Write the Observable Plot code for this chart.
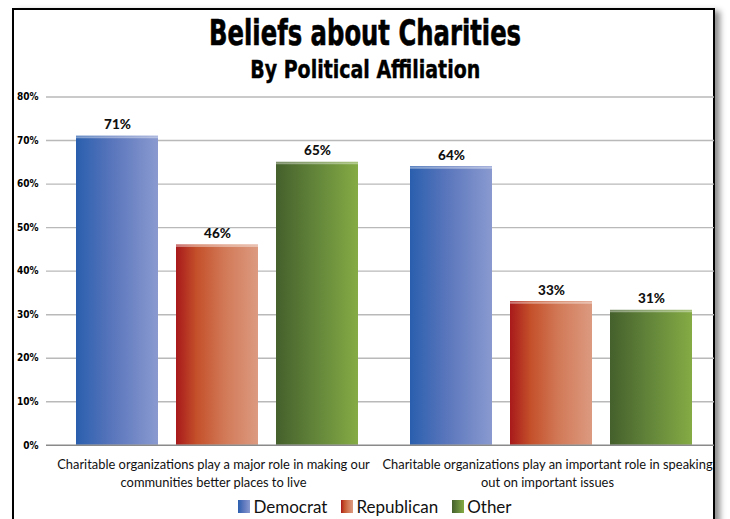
<!DOCTYPE html>
<html>
<head>
<meta charset="utf-8">
<script src="https://cdn.jsdelivr.net/npm/d3@7"></script>
<script src="https://cdn.jsdelivr.net/npm/@observablehq/plot@0.6"></script>
<style>
  body { margin: 0; background: #fff; }
  #wrap { position: relative; width: 730px; height: 519px; overflow: hidden; background: #fff; }
  #frame {
    position: absolute; left: 12px; top: 8px; width: 698.5px; height: 600px;
    border: 2.5px solid #000; box-shadow: 5px 3px 6px rgba(0,0,0,0.45); background: #fff;
  }
  .ttl { position: absolute; left: 0; width: 730px; text-align: center; color: #000;
         font-family: "DejaVu Sans Condensed", "DejaVu Sans", sans-serif; font-weight: bold; white-space: nowrap; }
  .ttl span { display: inline-block; transform-origin: center; }
  #title { top: 13px; font-size: 36px; line-height: 40px; -webkit-text-stroke: 0.6px #000; }
  #subtitle { top: 56px; font-size: 25px; line-height: 28px; -webkit-text-stroke: 0.4px #000; }
  #chart { position: absolute; left: 0; top: 86px; }
  #legend { position: absolute; left: 20px; top: 496px; width: 710px; text-align: center;
            font-family: Lato, "Open Sans", sans-serif; font-size: 17px; color: #111; white-space: nowrap; }
  .item { display: inline-flex; align-items: center; margin: 0 7px; }
  .sw { display: inline-block; width: 12px; height: 13px; margin-right: 3px; }
</style>
</head>
<body>
<div id="wrap">
  <div id="frame"></div>
  <div class="ttl" id="title"><span>Beliefs about Charities</span></div>
  <div class="ttl" id="subtitle"><span>By Political Affiliation</span></div>
  <div id="chart"></div>
  <div id="legend"></div>
</div>
<script>
// Survey statements (each drawn as a two-line label)
const statements = [
  "Charitable organizations play a major role in making our communities better places to live",
  "Charitable organizations play an important role in speaking out on important issues"
];
const statementLines = [
  ["Charitable organizations play a major role in making our", "communities better places to live"],
  ["Charitable organizations play an important role in speaking", "out on important issues"]
];
const parties = ["Democrat", "Republican", "Other"];
// Percent agreeing, per statement
const democrat = [71, 64];
const republican = [46, 33];
const other = [65, 31];
const yTicks = [0, 10, 20, 30, 40, 50, 60, 70, 80];

// Left-to-right gradient stops for each party's bars
const gradients = {
  Democrat:   [["0%", "#2a5fae"], ["45%", "#5a76bc"], ["100%", "#8a9ad0"]],
  Republican: [["0%", "#a8191b"], ["25%", "#c4502a"], ["60%", "#d27a58"], ["100%", "#dc9a80"]],
  Other:      [["0%", "#45602c"], ["50%", "#63863a"], ["100%", "#84ab44"]]
};
const gradId = p => "grad-" + p.toLowerCase();

const seriesValues = [democrat, republican, other];
const rows = [];
statements.forEach((s, i) => parties.forEach((p, j) => rows.push({statement: s, party: p, value: seriesValues[j][i]})));
const labelRows = statements.map((s, i) => ({statement: s, label: statementLines[i].join("\n")}));

const svg = Plot.plot({
  width: 730,
  height: 409,
  marginTop: 10.5,
  marginBottom: 50.2,
  marginLeft: 45,
  marginRight: 16,
  style: {background: "transparent", overflow: "visible"},
  fx: {domain: statements, padding: 0, axis: null},
  x: {domain: parties, paddingInner: 0.18, paddingOuter: 0.224, insetLeft: 7, axis: null},
  y: {domain: [0, 80], axis: null},
  marks: [
    Plot.ruleY(yTicks.slice(1), {stroke: "#b9b9b9", strokeWidth: 1.4}),
    Plot.axisY({
      ticks: yTicks, tickSize: 0, tickPadding: 8, tickFormat: d => d + "%",
      fontFamily: "'Liberation Sans Narrow', 'DejaVu Sans Condensed', sans-serif",
      fontWeight: "bold", fontSize: 10, fill: "#000", label: null
    }),
    ...parties.map(p => Plot.barY(rows.filter(d => d.party === p), {
      fx: "statement", x: "party", y: "value", fill: `url(#${gradId(p)})`
    })),
    Plot.tickY(rows, {fx: "statement", x: "party", y: "value", stroke: "#fff", strokeOpacity: 0.4, strokeWidth: 2, dy: 1}),
    Plot.ruleY([0], {stroke: "#8a8a8a", strokeWidth: 1.4}),
    Plot.text(rows, {
      fx: "statement", x: "party", y: "value", text: d => d.value + "%",
      dy: -7, lineAnchor: "bottom", fontFamily: "Lato, sans-serif", fontWeight: 900,
      fontSize: 13.5, fill: "#111"
    }),
    Plot.text(labelRows, {
      fx: "statement", text: "label", frameAnchor: "bottom", lineAnchor: "top",
      dy: 11, lineHeight: 1.4, fontFamily: "Lato, sans-serif", fontSize: 12.9, fill: "#111"
    })
  ]
});

// Gradient definitions referenced by the bars
const defs = d3.select(svg).insert("defs", ":first-child");
for (const p of parties) {
  const g = defs.append("linearGradient").attr("id", gradId(p)).attr("x1", "0").attr("x2", "1").attr("y1", "0").attr("y2", "0");
  for (const [off, col] of gradients[p]) g.append("stop").attr("offset", off).attr("stop-color", col);
}
document.getElementById("chart").appendChild(svg);

// Legend
const legend = d3.select("#legend");
for (const p of parties) {
  const item = legend.append("span").attr("class", "item");
  item.append("span").attr("class", "sw")
    .style("background", `linear-gradient(to right, ${gradients[p].map(([o, c]) => c + " " + o).join(", ")})`);
  item.append("span").text(p);
}

// Fit the condensed headings to their widths
function fit(sel, w) {
  const el = document.querySelector(sel);
  el.style.transform = `scaleX(${w / el.getBoundingClientRect().width})`;
}
fit("#title span", 312);
fit("#subtitle span", 230);
</script>
</body>
</html>
